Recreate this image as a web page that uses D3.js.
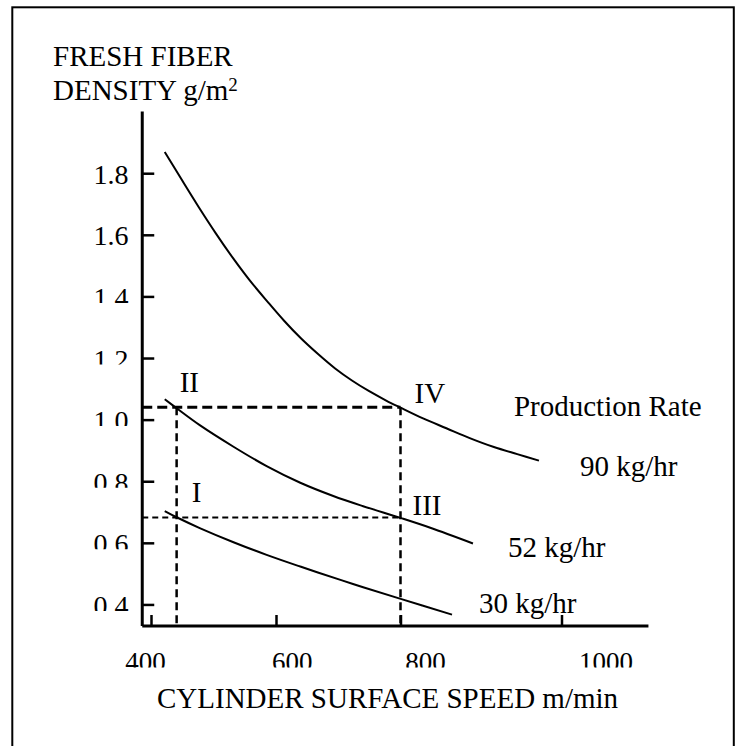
<!DOCTYPE html>
<html>
<head>
<meta charset="utf-8">
<script src="https://cdn.jsdelivr.net/npm/d3@7"></script>
<style>
  body { margin: 0; background: #fff; }
  svg { display: block; }
</style>
</head>
<body>
<script>

// values
const xTicks = [400, 600, 800, 1000];
const yTicks = [0.4, 0.6, 0.8, 1.0, 1.2, 1.4, 1.6, 1.8];

const rate90 = [[422, 1.869], [450, 1.776], [477, 1.688], [504, 1.604], [531, 1.525],
  [558, 1.452], [586, 1.384], [613, 1.321], [640, 1.264], [668, 1.212], [695, 1.166],
  [722, 1.127], [749, 1.093], [777, 1.062], [800, 1.039], [828, 1.004], [857, 0.972],
  [886, 0.940], [916, 0.911], [945, 0.888], [972, 0.867]];
const rate52 = [[422, 1.066], [441, 1.037], [478, 0.982], [532, 0.912], [585, 0.849],
  [639, 0.795], [692, 0.752], [740, 0.719], [800, 0.681], [837, 0.649], [890, 0.598]];
const rate30 = [[422, 0.703], [441, 0.683], [478, 0.648], [532, 0.602], [585, 0.561],
  [639, 0.523], [706, 0.478], [740, 0.456], [799, 0.419], [864, 0.367]];

const rateNames = ["90 kg/hr", "52 kg/hr", "30 kg/hr"];

const pointNames = ["I", "II", "III", "IV"];
const pointSpeed = [441, 441, 800, 800];
const pointDensity = [0.683, 1.04, 0.681, 1.041];

const width = 745;
const height = 746;
const font = "'Liberation Serif', 'Times New Roman', serif";

// the original's x ticks are unevenly spaced, so use a piecewise scale
const x = d3.scaleLinear()
  .domain([400, 600, 800, 1000])
  .range([151, 276, 400.5, 561.5]);

// tick labels drift to the right of their ticks in the source
const xLabel = d3.scaleLinear()
  .domain([400, 600, 800, 1000])
  .range([145.5, 292.3, 425.4, 606]);

const y = d3.scaleLinear()
  .domain([0.33, 2.0])
  .range([626, 111.6]);

const xMin = 386, xMax = 1108;

const svg = d3.select("body").append("svg")
  .attr("width", width)
  .attr("height", height)
  .attr("viewBox", [0, 0, width, height])
  .style("font-family", font);

// frame around the figure
svg.append("rect")
  .attr("x", 12.3)
  .attr("y", 7.3)
  .attr("width", 721.5)
  .attr("height", 760)
  .attr("fill", "none")
  .attr("stroke", "#000")
  .attr("stroke-width", 2);

const defs = svg.append("defs");

// axis lines
svg.append("line")
  .attr("x1", x(xMin)).attr("x2", x(xMax))
  .attr("y1", y(0.33)).attr("y2", y(0.33))
  .attr("stroke", "#000").attr("stroke-width", 3);

svg.append("line")
  .attr("x1", x(xMin)).attr("x2", x(xMin))
  .attr("y1", y(0.33)).attr("y2", y(2.0))
  .attr("stroke", "#000").attr("stroke-width", 3);

// inward ticks
const gx = svg.append("g")
  .attr("transform", `translate(0,${y(0.33)})`)
  .call(d3.axisBottom(x).tickValues(xTicks).tickSize(-11).tickSizeOuter(0).tickFormat(""));
gx.select(".domain").remove();
gx.selectAll(".tick line").attr("stroke-width", 2.5);

const gy = svg.append("g")
  .attr("transform", `translate(${x(xMin)},0)`)
  .call(d3.axisLeft(y).tickValues(yTicks).tickSize(-12).tickSizeOuter(0).tickFormat(""));
gy.select(".domain").remove();
gy.selectAll(".tick line").attr("stroke-width", 2.5);

// y tick labels, the scan cuts off the bottoms of the lower ones
yTicks.forEach((t, i) => {
  const base = y(t) + 10.5;
  const cut = t < 1.5 ? 4 : -10;
  defs.append("clipPath").attr("id", "yclip" + i)
    .append("rect")
      .attr("x", 0).attr("y", base - 30)
      .attr("width", 140).attr("height", 30 - cut);
  svg.append("text")
    .attr("clip-path", `url(#yclip${i})`)
    .attr("x", 128.5)
    .attr("y", base)
    .attr("text-anchor", "end")
    .attr("font-size", 28)
    .text(d3.format(".1f")(t));
});

defs.append("clipPath").attr("id", "xclip")
  .append("rect")
    .attr("x", 0).attr("y", y(0.33) + 10)
    .attr("width", width).attr("height", 31.5);

svg.append("g")
  .attr("clip-path", "url(#xclip)")
  .selectAll("text")
  .data(xTicks)
  .join("text")
    .attr("x", d => xLabel(d))
    .attr("y", y(0.33) + 45)
    .attr("text-anchor", "middle")
    .attr("font-size", 27)
    .text(d => d);

// axis titles
const yTitle = svg.append("text")
  .attr("x", 53)
  .attr("font-size", 29);
yTitle.append("tspan").attr("x", 53).attr("y", 66).text("FRESH FIBER");
yTitle.append("tspan").attr("x", 53).attr("y", 100).text("DENSITY g/m");
yTitle.append("tspan").attr("dy", -9).attr("font-size", 19).text("2");

svg.append("text")
  .attr("x", 157)
  .attr("y", 708)
  .attr("font-size", 29)
  .text("CYLINDER SURFACE SPEED m/min");

// dashed reference lines through points I-IV
const guides = [
  {x1: xMin, y1: 1.04, x2: 800, y2: 1.04, w: 3, dash: "10,5"},
  {x1: xMin, y1: 0.682, x2: 800, y2: 0.682, w: 2, dash: "6,4"},
  {x1: 441, y1: 1.04, x2: 441, y2: 0.33, w: 2.5, dash: "8,5"},
  {x1: 800, y1: 1.04, x2: 800, y2: 0.33, w: 2.5, dash: "8,5"}
];

svg.append("g")
  .selectAll("line")
  .data(guides)
  .join("line")
    .attr("x1", d => x(d.x1)).attr("y1", d => y(d.y1))
    .attr("x2", d => x(d.x2)).attr("y2", d => y(d.y2))
    .attr("stroke", "#000")
    .attr("stroke-width", d => d.w)
    .attr("stroke-dasharray", d => d.dash);

// curves
const line = d3.line()
  .x(d => x(d[0]))
  .y(d => y(d[1]))
  .curve(d3.curveCatmullRom);

const series = [rate90, rate52, rate30];

svg.append("g")
  .attr("fill", "none")
  .attr("stroke", "#000")
  .attr("stroke-width", 2)
  .selectAll("path")
  .data(series)
  .join("path")
    .attr("d", line);

// rate labels next to the end of each curve
const rateOffsets = [[41, 15.5], [35, 13.5], [27, -1.5]];

svg.append("g")
  .attr("font-size", 29)
  .selectAll("text")
  .data(series)
  .join("text")
    .attr("x", (d, i) => x(d[d.length - 1][0]) + rateOffsets[i][0])
    .attr("y", (d, i) => y(d[d.length - 1][1]) + rateOffsets[i][1])
    .text((d, i) => rateNames[i]);

svg.append("text")
  .attr("x", x(rate90[rate90.length - 1][0]) - 25)
  .attr("y", y(rate90[rate90.length - 1][1]) - 45)
  .attr("font-size", 29)
  .text("Production Rate");

// roman numeral markers
const pointOffsets = [[15, -15], [3, -15], [12, -3], [14, -4]];

svg.append("g")
  .attr("font-size", 29)
  .selectAll("text")
  .data(pointNames)
  .join("text")
    .attr("x", (d, i) => x(pointSpeed[i]) + pointOffsets[i][0])
    .attr("y", (d, i) => y(pointDensity[i]) + pointOffsets[i][1])
    .text(d => d);

</script>
</body>
</html>
